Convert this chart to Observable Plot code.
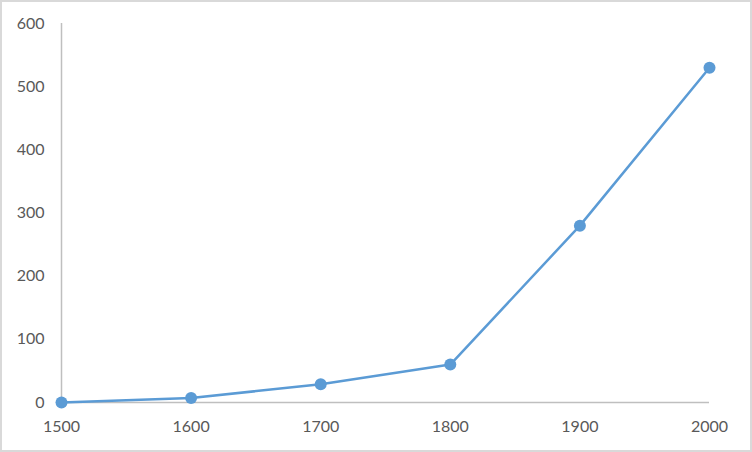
<!DOCTYPE html>
<html>
<head>
<meta charset="utf-8">
<script src="https://cdn.jsdelivr.net/npm/d3@7"></script>
<script src="https://cdn.jsdelivr.net/npm/@observablehq/plot@0.6"></script>
<style>
  html, body { margin: 0; padding: 0; background: #fff; }
  #chart { position: relative; width: 752px; height: 452px; }
  #chart::after { content: ""; position: absolute; inset: 0; border: 2px solid #d9d9d9; pointer-events: none; }
</style>
</head>
<body>
<div id="chart"></div>
<script>
const years = [1500, 1600, 1700, 1800, 1900, 2000];
const values = [0, 7, 29, 60, 280, 530];
const xTicks = [1500, 1600, 1700, 1800, 1900, 2000];
const yTicks = [0, 100, 200, 300, 400, 500, 600];

const data = years.map((year, i) => ({year, value: values[i]}));

const chart = Plot.plot({
  width: 752,
  height: 452,
  marginLeft: 61,
  marginRight: 43,
  marginTop: 23,
  marginBottom: 50,
  style: {fontFamily: "Lato, sans-serif", fontSize: "16px", color: "#595959", background: "transparent"},
  x: {domain: [1500, 2000], ticks: xTicks, tickFormat: d => String(d), tickSize: 0, tickPadding: 18, label: null},
  y: {domain: [0, 600], ticks: yTicks, tickSize: 0, tickPadding: 17, label: null},
  marks: [
    Plot.ruleX([1500], {y1: 0, y2: 600, stroke: "#bfbfbf", strokeWidth: 1.5}),
    Plot.ruleY([0], {x1: 1500, x2: 2000, stroke: "#bfbfbf", strokeWidth: 1.5}),
    Plot.line(data, {x: "year", y: "value", stroke: "#5b9bd5", strokeWidth: 2.5}),
    Plot.dot(data, {x: "year", y: "value", r: 6, fill: "#5b9bd5", stroke: "none"})
  ]
});
document.getElementById("chart").appendChild(chart);
</script>
</body>
</html>
